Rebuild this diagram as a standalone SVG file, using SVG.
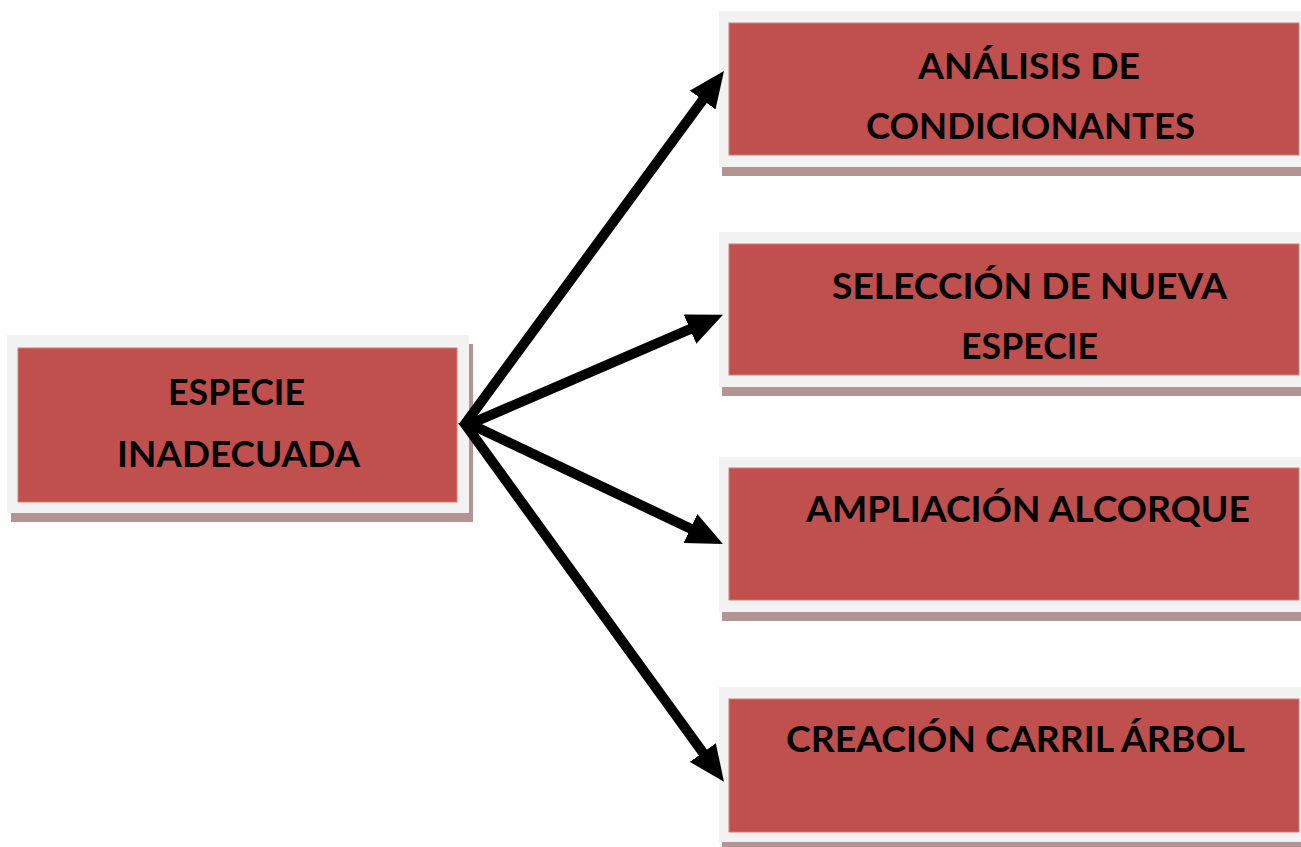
<svg xmlns="http://www.w3.org/2000/svg" width="1301" height="847" viewBox="0 0 1301 847">
<defs>
<style>
.shadow{fill:#b39494}
.frame{fill:#f2f2f2}
.box{fill:#c0504d;stroke:#d27e7b;stroke-width:1}
.lbl{font-family:Lato,"Open Sans","Liberation Sans",sans-serif;font-weight:bold;font-size:36px;fill:#000}
.arrow{fill:none;stroke:#000;stroke-width:10;stroke-linejoin:miter;stroke-miterlimit:6}
</style>
<marker id="ah" markerUnits="userSpaceOnUse" viewBox="0 0 36 32" markerWidth="36" markerHeight="32" refX="19" refY="16" orient="auto-start-reverse">
<path d="M0,0 L36,16 L0,32 Z" fill="#000"/>
</marker>
</defs>
<rect width="1301" height="847" fill="#fff"/>

<g id="node-especie-inadecuada">
<rect class="shadow" x="11" y="344" width="462" height="178"/>
<rect class="frame" x="7" y="335" width="462" height="178"/>
<rect class="box" x="18" y="348" width="439" height="154"/>
<text class="lbl" x="168" y="405" textLength="137" lengthAdjust="spacingAndGlyphs">ESPECIE</text>
<text class="lbl" x="117" y="467" textLength="243" lengthAdjust="spacingAndGlyphs">INADECUADA</text>
</g>

<g id="node-analisis">
<rect class="shadow" x="722" y="20" width="590" height="156"/>
<rect class="frame" x="719" y="11" width="590" height="156"/>
<rect class="box" x="729" y="23" width="570" height="132"/>
<text class="lbl" x="918" y="79" textLength="222" lengthAdjust="spacingAndGlyphs">ANÁLISIS DE</text>
<text class="lbl" x="866" y="139" textLength="329" lengthAdjust="spacingAndGlyphs">CONDICIONANTES</text>
</g>

<g id="node-seleccion">
<rect class="shadow" x="722" y="241" width="590" height="155"/>
<rect class="frame" x="719" y="232" width="590" height="155"/>
<rect class="box" x="729" y="244" width="570" height="131"/>
<text class="lbl" x="832" y="299" textLength="395" lengthAdjust="spacingAndGlyphs">SELECCIÓN DE NUEVA</text>
<text class="lbl" x="961" y="359" textLength="137" lengthAdjust="spacingAndGlyphs">ESPECIE</text>
</g>

<g id="node-ampliacion">
<rect class="shadow" x="722" y="466" width="590" height="155"/>
<rect class="frame" x="719" y="457" width="590" height="155"/>
<rect class="box" x="729" y="468" width="570" height="132"/>
<text class="lbl" x="806" y="522" textLength="444" lengthAdjust="spacingAndGlyphs">AMPLIACIÓN ALCORQUE</text>
</g>

<g id="node-creacion">
<rect class="shadow" x="722" y="696" width="590" height="155"/>
<rect class="frame" x="719" y="687" width="590" height="155"/>
<rect class="box" x="729" y="699" width="570" height="133"/>
<text class="lbl" x="786" y="752" textLength="459" lengthAdjust="spacingAndGlyphs">CREACIÓN CARRIL ÁRBOL</text>
</g>

<g id="connectors">
<path class="arrow" d="M713.9,84.7 L465,424 L714,767.9" marker-start="url(#ah)" marker-end="url(#ah)"/>
<path class="arrow" d="M707.4,321.6 L470,424 L707.6,536.7" marker-start="url(#ah)" marker-end="url(#ah)"/>
</g>
</svg>
